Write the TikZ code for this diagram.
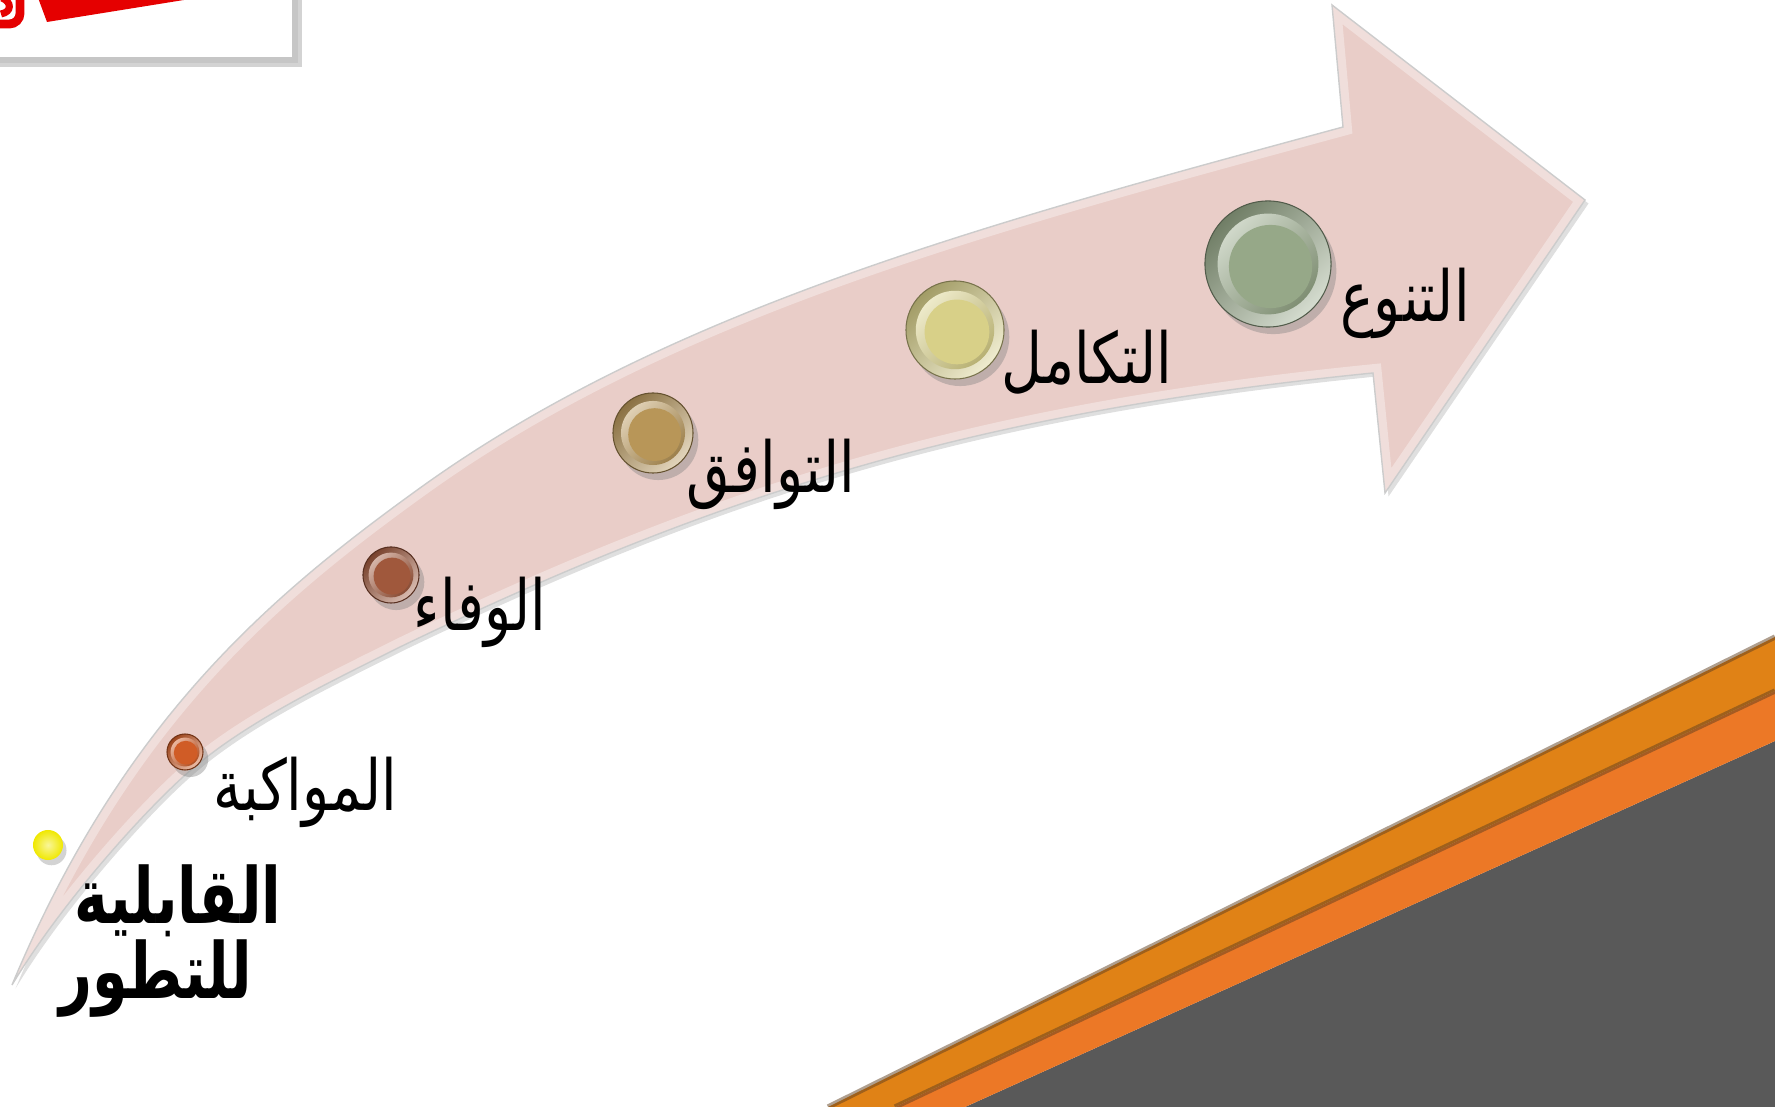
\documentclass[tikz,border=0pt]{standalone}
\usepackage{fontspec}
\usepackage{tikz}
\usetikzlibrary{shadows}
\newfontfamily\arabicfont[Script=Arabic, FakeStretch=0.8]{DejaVu Sans}
\newfontfamily\arabicbold[Script=Arabic, FakeStretch=0.74]{DejaVu Sans Bold}
\TeXXeTstate=1
\definecolor{arrowpink}{RGB}{233,205,200}
\definecolor{stripeA}{RGB}{224,130,22}
\definecolor{stripeB}{RGB}{236,120,38}
\definecolor{slate}{RGB}{89,89,89}
\definecolor{ballyellow}{RGB}{240,232,0}
\definecolor{knobA}{RGB}{208,92,38}
\definecolor{knobB}{RGB}{160,88,60}
\definecolor{knobC}{RGB}{184,150,88}
\definecolor{knobD}{RGB}{216,208,136}
\definecolor{knobE}{RGB}{150,168,136}
% outline of the curved arrow
\newcommand{\arrowpath}{(12,985) .. controls (122,721) and (270,596) .. (420,488)
  .. controls (670,308) and (993,222) .. (1343,127)
  -- (1332,5) -- (1585,200) -- (1385,493) -- (1373,373)
  .. controls (973,413) and (720,493) .. (400,647)
  .. controls (320,687) and (240,725) .. (183,777)
  .. controls (140,816) and (60,905) .. (12,985) -- cycle}
% bevelled button: name, position, diameter, colour
\newcommand{\knob}[4]{%
  \node[circle, inner sep=0pt, minimum size=#3, draw=#4!55!black, line width=0.3pt,
        top color=#4!75!black, bottom color=#4!40!white, shading angle=45,
        drop shadow={shadow xshift=1.5pt, shadow yshift=-2pt, opacity=0.4}] (#1) at (#2) {};
  \node[circle, inner sep=0pt, minimum size=0.8*#3,
        top color=#4!45!white, bottom color=#4!85!black, shading angle=45] (#1in) at (#1.center) {};
  \node[circle, inner sep=0pt, minimum size=0.66*#3, fill=#4] (#1core) at ([xshift=0.02*#3, yshift=-0.02*#3]#1.center) {};
}

\begin{document}
\begin{tikzpicture}[x=0.01cm, y=-0.01cm,
    lbl/.style={font=\arabicfont\fontsize{20}{24}\selectfont, inner sep=0pt},
    bigl/.style={font=\arabicbold\fontsize{22}{20.5}\selectfont, inner sep=0pt, align=center}]
    \useasboundingbox (0,0) rectangle (1775,1107);
    % stripes, bottom right
    \fill[slate] (965,1107) -- (1775,741) -- (1775,1107) -- cycle;
    \fill[stripeB] (895,1107) -- (1775,691) -- (1775,741) -- (965,1107) -- cycle;
    \fill[stripeA] (828,1107) -- (1775,637) -- (1775,691) -- (895,1107) -- cycle;
    \draw[brown!50!black, line width=1.5pt, opacity=0.5] (828,1107) -- (1775,637);
    \draw[brown!50!black, line width=1.5pt, opacity=0.5] (895,1107) -- (1775,691);
    % picture frame, top left
    \filldraw[fill=white, draw=gray!45, line width=1.5pt,
        drop shadow={shadow xshift=2pt, shadow yshift=-2pt, opacity=0.35}] (-10,-10) rectangle (295,60);
    \fill[red!90!black] (37,-5) -- (47,22) -- (215,-5) -- cycle;
    \draw[red!90!black, line width=2.5pt, rounded corners=3pt] (-12,-12) rectangle (20,24);
    \draw[red!90!black, line width=2pt] (2,-2) .. controls (12,2) and (12,12) .. (1,14);
    % arrow
    \fill[arrowpink, drop shadow={shadow xshift=1pt, shadow yshift=-1pt, opacity=0.25}] \arrowpath;
    \begin{scope}
        \clip \arrowpath;
        \draw[white, line width=5pt, opacity=0.35] \arrowpath;
    \end{scope}
    \draw[black!20, line width=0.4pt] \arrowpath;
    % buttons
    \node[circle, inner sep=0pt, minimum size=0.3cm, inner color=ballyellow!40!white, outer color=ballyellow,
        drop shadow={shadow xshift=1pt, shadow yshift=-1.5pt, opacity=0.35}] (k0) at (48,845) {};
    \knob{k1}{185,752}{0.36cm}{knobA}
    \knob{k2}{391,575}{0.56cm}{knobB}
    \knob{k3}{653,433}{0.8cm}{knobC}
    \knob{k4}{955,330}{0.98cm}{knobD}
    \knob{k5}{1268,264}{1.26cm}{knobE}
    % labels
    \node[lbl] (t1) at (305,792) {\beginR المواكبة\endR};
    \node[lbl] (t2) at (480,612) {\beginR الوفاء\endR};
    \node[lbl] (t3) at (771,474) {\beginR التوافق\endR};
    \node[lbl] (t4) at (1087,362) {\beginR التكامل\endR};
    \node[lbl] (t5) at (1405,303) {\beginR التنوع\endR};
    \node[bigl] (t0) at (178,941) {\beginR القابلية\endR\\\beginR للتطور\endR\hspace*{0.44cm}};
\end{tikzpicture}
\end{document}
